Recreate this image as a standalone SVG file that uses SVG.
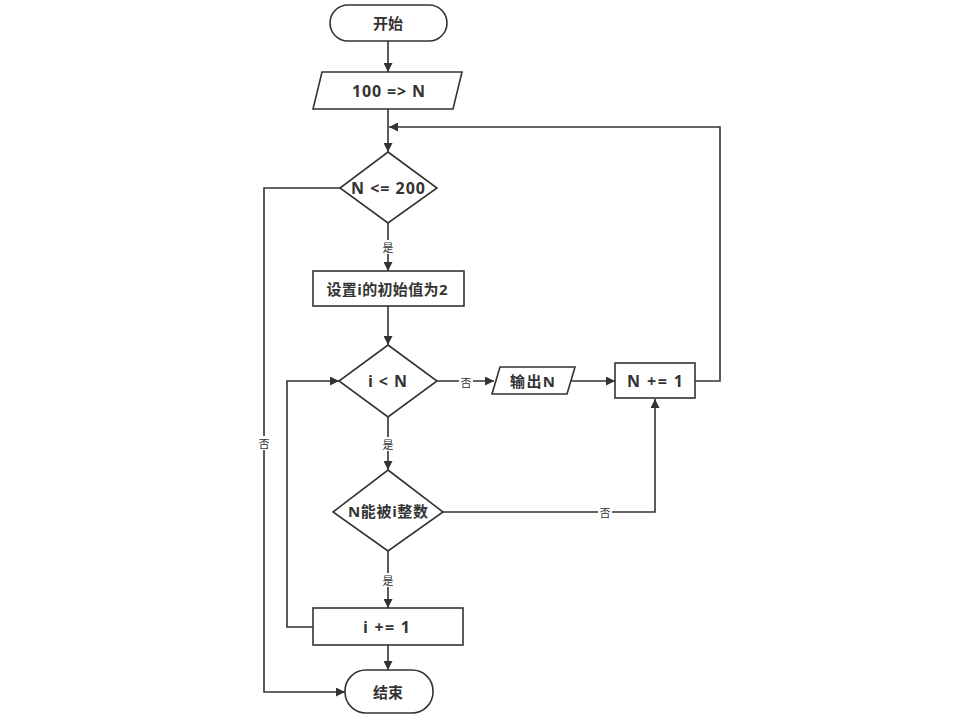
<svg xmlns="http://www.w3.org/2000/svg" width="964" height="719" viewBox="0 0 964 719">
<defs>
<marker id="arr" viewBox="0 0 10 10" refX="10" refY="5" markerWidth="9" markerHeight="9" markerUnits="userSpaceOnUse" orient="auto">
<path d="M0,0 L10,5 L0,10 z" fill="#333"/>
</marker>
<style>
.s{fill:#fff;stroke:#333;stroke-width:1.6}
.t{font-family:"Open Sans","Noto Sans CJK SC",sans-serif;font-size:15px;font-weight:bold;fill:#333;text-anchor:middle;dominant-baseline:central}
.e{font-size:16px}
.c{fill:none;stroke:#333;stroke-width:1.6}
.l{font-family:"Noto Sans CJK SC",sans-serif;font-size:11px;fill:#333;text-anchor:middle;dominant-baseline:central}
.bg{fill:#fff}
</style>
</defs>
<rect width="964" height="719" fill="#fff"/>
<g id="connectors">
<path class="c" d="M388,41 V72" marker-end="url(#arr)"/>
<path class="c" d="M388,109 V152" marker-end="url(#arr)"/>
<path class="c" d="M695,381 H720 V127 H389" marker-end="url(#arr)"/>
<path class="c" d="M388,223 V271" marker-end="url(#arr)"/>
<path class="c" d="M340,188 H264 V692 H345" marker-end="url(#arr)"/>
<path class="c" d="M388,306 V345" marker-end="url(#arr)"/>
<path class="c" d="M437,381 H494" marker-end="url(#arr)"/>
<path class="c" d="M567,381 H615" marker-end="url(#arr)"/>
<path class="c" d="M388,417 V470" marker-end="url(#arr)"/>
<path class="c" d="M443,512 H655 V399" marker-end="url(#arr)"/>
<path class="c" d="M388,551 V608" marker-end="url(#arr)"/>
<path class="c" d="M313,627 H287 V381 H339" marker-end="url(#arr)"/>
<path class="c" d="M388,645 V670" marker-end="url(#arr)"/>
<rect class="bg" x="381" y="240" width="14" height="14"/>
<text class="l" x="388" y="247">是</text>
<rect class="bg" x="257" y="436" width="14" height="14"/>
<text class="l" x="264" y="443">否</text>
<rect class="bg" x="459" y="375" width="14" height="13"/>
<text class="l" x="466" y="382">否</text>
<rect class="bg" x="381" y="437" width="14" height="14"/>
<text class="l" x="388" y="444">是</text>
<rect class="bg" x="598" y="505" width="14" height="14"/>
<text class="l" x="605" y="512">否</text>
<rect class="bg" x="381" y="573" width="14" height="14"/>
<text class="l" x="388" y="580">是</text>
</g>
<g id="start">
<rect class="s" x="330" y="5" width="117" height="36" rx="18"/>
<text class="t" x="388" y="23">开始</text>
</g>
<g id="input">
<path class="s" d="M322,72 H462 L453,109 H313 z"/>
<text class="t e" x="388.5" y="91" textLength="73" lengthAdjust="spacing">100 =&gt; N</text>
</g>
<g id="cond1">
<path class="s" d="M388,152 L437,188 L388,223 L340,188 z"/>
<text class="t e" x="388" y="188" textLength="74" lengthAdjust="spacing">N &lt;= 200</text>
</g>
<g id="init">
<rect class="s" x="313" y="271" width="151" height="35"/>
<text class="t" x="387" y="289" textLength="121" lengthAdjust="spacing">设置i的初始值为2</text>
</g>
<g id="cond2">
<path class="s" d="M388,345 L437,381 L388,417 L339,381 z"/>
<text class="t e" x="387.5" y="381" textLength="39" lengthAdjust="spacing">i &lt; N</text>
</g>
<g id="output">
<path class="s" d="M500,367 H575 L567,394 H492 z"/>
<text class="t" x="532.5" y="381" textLength="45" lengthAdjust="spacing">输出N</text>
</g>
<g id="incN">
<rect class="s" x="615" y="363" width="80" height="35"/>
<text class="t e" x="655" y="381" textLength="56" lengthAdjust="spacing">N += 1</text>
</g>
<g id="cond3">
<path class="s" d="M388,470 L443,512 L388,551 L333,512 z"/>
<text class="t" x="388" y="511" textLength="80" lengthAdjust="spacing">N能被i整数</text>
</g>
<g id="inci">
<rect class="s" x="313" y="608" width="150" height="37"/>
<text class="t e" x="386.5" y="627" textLength="47" lengthAdjust="spacing">i += 1</text>
</g>
<g id="end">
<rect class="s" x="345" y="670" width="88" height="43" rx="21"/>
<text class="t" x="388" y="692">结束</text>
</g>
</svg>
